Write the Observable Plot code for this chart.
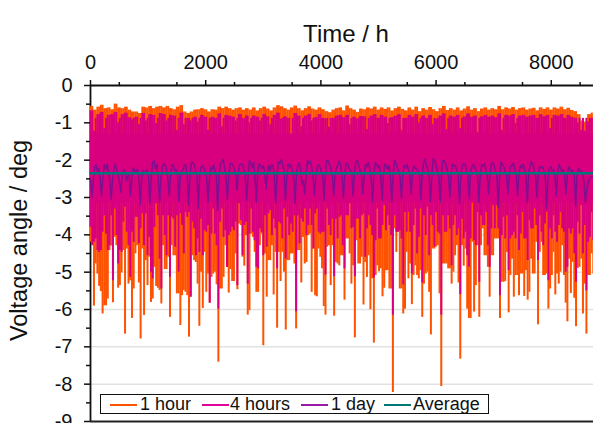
<!DOCTYPE html>
<html>
<head>
<meta charset="utf-8">
<script src="https://cdn.jsdelivr.net/npm/d3@7"></script>
<script src="https://cdn.jsdelivr.net/npm/@observablehq/plot@0.6"></script>
<style>
html,body{margin:0;padding:0;background:#fff;overflow:hidden}
#wrap{position:relative;width:593px;height:423px;font-family:"Liberation Sans",Arial,sans-serif}
#legend{position:absolute;left:100px;top:394px;width:387px;height:18px;border:1.5px solid #111;background:#fff;font-size:18px;line-height:18px;color:#111}
#legend span{position:absolute;top:0;white-space:nowrap}
#legend i{position:absolute;top:9px;height:1.5px;width:27px}
</style>
</head>
<body>
<div id="wrap">
<div id="chart"></div>
<div id="legend"></div>
</div>
<script>
const seriesNames = ["1 hour", "4 hours", "1 day", "Average"];
const seriesColors = ["#ff5200", "#d9007f", "#7f0f8f", "#007878"];
const xTicks = [0, 2000, 4000, 6000, 8000];
const yTicks = [0, -1, -2, -3, -4, -5, -6, -7, -8, -9];
const average = -2.35;
const fourSolidTop = -1.3;
const fourSolidBottom = -3.15;

// Highest reading of each 60 h window, 1-hour values
const hourTop = [-.56,-.66,-.58,-.53,-.62,-.6,-.65,-.5,-.6,-.62,-.58,-.66,-.71,-.71,-.75,-.58,-.6,-.56,-.62,-.58,-.56,-.6,-.56,-.62,-.65,-.58,-.54,-.71,-.75,-.71,-.66,-.65,-.62,-.65,-.71,-.65,-.66,-.58,-.62,-.58,-.62,-.66,-.62,-.6,-.66,-.62,-.66,-.6,-.68,-.62,-.58,-.63,-.68,-.6,-.54,-.57,-.62,-.66,-.6,-.55,-.62,-.68,-.62,-.57,-.63,-.66,-.6,-.65,-.7,-.73,-.66,-.62,-.6,-.68,-.55,-.62,-.66,-.72,-.63,-.65,-.6,-.63,-.58,-.66,-.6,-.64,-.6,-.68,-.62,-.58,-.64,-.68,-.6,-.66,-.58,-.7,-.62,-.66,-.59,-.65,-.7,-.62,-.56,-.67,-.62,-.66,-.6,-.68,-.63,-.57,-.66,-.62,-.7,-.63,-.6,-.66,-.62,-.65,-.56,-.65,-.6,-.63,-.59,-.66,-.62,-.6,-.66,-.63,-.61,-.68,-.6,-.64,-.6,-.66,-.6,-.63,-.58,-.65,-.61,-.67,-.7,-.78,-.95,-.98,-.78,-.74];
// Highest reading of each 60 h window, 4-hour values
const fourTop = [-.68,-1.22,-.78,-.72,-1.15,-.8,-.78,-.72,-1,-.78,-.74,-.86,-.92,-.85,-1.05,-.75,-.95,-.78,-.8,-1.02,-.75,-.78,-.95,-.8,-.82,-1.2,-.74,-1.05,-.88,-.95,-.85,-.98,-.8,-.85,-1.2,-.85,-.88,-.76,-1.1,-.8,-.82,-.85,-.95,-.78,-.88,-.82,-1,-.82,-.85,-.95,-.78,-.84,-1.05,-.8,-.74,-.9,-.84,-.88,-1.35,-.75,-.82,-1.1,-.82,-.78,-.95,-.86,-.78,-.88,-.9,-1.12,-.88,-.82,-.8,-.86,-.8,-1.05,-.85,-.9,-.83,-.84,-1.18,-.82,-.78,-.88,-.8,-.85,-1.02,-.86,-.82,-.78,-1.2,-.88,-.8,-.85,-.78,-1,-.82,-.88,-.8,-1.05,-.9,-.82,-.76,-1.18,-.82,-.85,-.8,-1.15,-.84,-.76,-.85,-.82,-1.25,-.84,-.8,-.85,-.82,-.86,-.76,-1.2,-.8,-.82,-.78,-1.02,-.82,-.8,-.85,-.82,-.8,-.88,-.78,-.84,-.8,-1.15,-.8,-.82,-.78,-.88,-.8,-.85,-.88,-1,-1.2,-1.22,-.98,-.88];

// Lowest reading of each 30 h window
const hourLow = [-4.2,-4.2,-5.91,-4.78,-5.05,-5.38,-5.52,-6.12,-5.9,-5.9,-5.72,-4.42,-4.3,-5.82,-4.07,-4.29,-5.43,-5.36,-5.02,-4.42,-6.66,-4.38,-5.32,-5.23,-6.24,-5.45,-4.51,-4.29,-5.29,-6.79,-4.38,-6.16,-4.69,-5.36,-4.6,-5.81,-5.72,-4.87,-5.38,-5.43,-5.49,-5.85,-4.29,-4.93,-4.93,-4.6,-6.21,-4.29,-4.56,-4.56,-5.58,-5.58,-6.43,-5.63,-5.49,-5.54,-5.63,-6.74,-5.67,-4.56,-4.69,-4.74,-5.32,-6.45,-5,-5.97,-4.47,-5.54,-5.05,-5.83,-5.14,-5.05,-5,-5.34,-7.41,-5.45,-5.45,-5.14,-4.29,-4.87,-5.56,-4.93,-5.25,-5.25,-4.51,-5.47,-3.71,-3.75,-4.6,-4.84,-4.02,-6.15,-6.03,-3.98,-4.07,-4.47,-5.54,-5.54,
-4.29,-3.98,-6.97,-4.51,-5.67,-4.69,-4.69,-4.29,-5.61,-4.47,-6.5,-4.47,-5.25,-4.47,-5,-6.55,-4.69,-4.69,-4.51,-4.51,-4.78,-6.52,-4.42,-4.42,-5.29,-4.07,-4.78,-4.74,-4.02,-3.98,-5.54,-4.38,-5.63,-5.66,-4.38,-4.6,-4.91,-5.92,-6.15,-4.33,-4.29,-5.36,-4.29,-6.18,-4.74,-4.78,-4.83,-4.56,-4.56,-5.75,-4.11,-4.11,-4.51,-5.32,-4.83,-6.76,-4.16,-4.78,-4.78,-4.6,-5.88,-4.74,-5.14,-4.56,-6.01,-5.18,-6.9,-5.09,-4.83,-4.99,-4.91,-5.66,-5.43,-4.96,-4.96,-5.45,-5.45,-8.22,-3.84,-4.47,-3.93,-5.45,-5.45,-6.12,-5.99,-4.47,-5.18,-4.78,-5.87,-5.09,-4.83,-5.09,-5.18,-4.96,-6.21,-5.32,-5.05,-5,
-5.54,-6.68,-4.38,-4.38,-4.33,-4.29,-5.58,-8.06,-4.78,-4.78,-4.78,-4.91,-4.91,-5.32,-5,-4.56,-4.29,-5.29,-7.33,-4.29,-4.84,-4.38,-5.99,-6.24,-6.24,-4.2,-6.07,-5.36,-4.29,-6.21,-4.29,-3.84,-4.56,-4.56,-4.87,-5.67,-4.56,-4.56,-4.11,-4.11,-4.11,-6.24,-5.27,-5.27,-5.25,-4.47,-6.09,-5.09,-4.65,-5.67,-5.09,-5.09,-5.63,-5.05,-5.05,-5.65,-4.96,-5.75,-5.54,-4.65,-5.05,-5.05,-4.2,-6.41,-4.47,-4.2,-5.09,-5.09,-5.05,-5.99,-5.45,-5.09,-4.47,-5.61,-5.05,-5.32,-5,-4.29,-5.09,-5.83,-6.33,-4.65,-5.57,-4.74,-5.7,-6.46,-4.9,-4.87,-4.65,-6.12,-5.32,-6.66,-5.09,-5.09,-4.51,-5.05];
const fourLow = [-3.8,-4.29,-4.2,-4.11,-4.42,-4.47,-4.42,-3.93,-3.49,-3.98,-4.42,-4.29,-3.49,-5.23,-3.31,-4.02,-4.78,-4.42,-4.47,-3.66,-3.26,-3.93,-4.29,-5.14,-3.93,-4.2,-3.53,-3.53,-4.24,-3.84,-3.44,-4.29,-3.44,-4.56,-4.07,-5,-5.18,-3.8,-3.17,-3.49,-4.65,-5.45,-3.49,-4.02,-4.56,-3.49,-5.14,-3.53,-3.58,-4.33,-3.49,-5,-3.44,-3.75,-4.51,-3.4,-3.53,-3.4,-5.67,-3.66,-3.84,-4.56,-4.11,-4.47,-3.58,-4.56,-3.89,-3.93,-3.75,-5.83,-3.98,-3.31,-3.98,-4.29,-5.99,-3.66,-3.31,-4.07,-3.89,-4.87,-4.02,-3.93,-3.8,-3.89,-3.66,-5.36,-3.17,-3.62,-4.56,-3.75,-3.66,-5.32,-3.98,-3.31,-3.93,-4.16,-4.87,-4.91,
-3.84,-3.93,-4.56,-3.49,-4.33,-3.44,-3.35,-4.02,-3.58,-3.84,-4.91,-3.66,-3.71,-4.11,-3.31,-4.65,-3.53,-4.02,-3.71,-3.93,-3.49,-6.06,-3.49,-4.24,-3.58,-3.66,-3.31,-4.02,-3.75,-3.31,-3.75,-4.38,-3.44,-3.31,-3.93,-3.98,-3.93,-3.93,-5.08,-3.31,-3.75,-4.02,-3.58,-5.12,-3.58,-4.11,-3.53,-3.49,-4.29,-4.91,-3.49,-3.49,-3.17,-3.84,-3.8,-5.12,-3.58,-3.58,-4.11,-3.49,-3.44,-4.6,-3.84,-3.49,-3.75,-4.02,-5.16,-4.16,-3.31,-4.11,-4.11,-3.75,-3.22,-3.89,-3.49,-3.75,-4.02,-6.15,-3.49,-3.93,-3.93,-3.89,-4.11,-5.34,-3.4,-3.93,-3.4,-3.93,-5.05,-3.75,-3.31,-4.51,-4.07,-3.31,-5.29,-3.49,-4.02,-3.26,
-4.56,-3.49,-3.75,-4.33,-3.4,-3.93,-3.98,-6.15,-3.49,-3.93,-3.93,-3.49,-3.84,-4.83,-3.75,-3.49,-4.02,-3.84,-5.6,-3.58,-4.11,-3.93,-4.56,-4.87,-4.11,-3.13,-4.16,-4.29,-3.4,-5.27,-3.49,-3.75,-3.75,-3.4,-4.29,-4.87,-3.84,-3.22,-3.84,-3.22,-3.84,-5.63,-4.02,-3.53,-4.11,-3.49,-4.96,-4.11,-4.02,-3.93,-4.11,-3.49,-4.42,-3.98,-3.4,-4.11,-4.11,-4.69,-3.62,-3.84,-3.84,-3.31,-3.75,-4.69,-3.49,-3.93,-4.29,-3.71,-3.4,-5.23,-3.84,-4.11,-3.49,-3.93,-4.2,-3.75,-3.4,-3.84,-3.93,-5,-4.87,-3.84,-3.98,-3.84,-4.51,-5.27,-3.66,-3.98,-3.22,-4.51,-3.75,-5.5,-4.2,-4.07,-3.4,-4.16];

// Daily mean, one value per day
const dayMean = [
-2.5,-2.99,-2.55,-2.2,-2.12,-2.3,-2.22, -2.5,-2.95,-2.45,-2.12,-2.25,-2.1,-2.3, -2.55,-3.04,-2.5,-2.22,-2.1,-2.32,-2.4, -2.6,-2.86,-2.35,-2.25,-2.28,-2.55,-2.42,
-2.4,-2.95,-2.45,-2.2,-2.28,-2.3,-2.24, -2.45,-3.19,-2.5,-2.28,-2.3,-2.32,-2.25, -2.42,-3.15,-2.4,-2.05,-2.02,-2.22,-2.12, -2.5,-3.1,-2.45,-2.18,-2.1,-2.12,-2.24,
-2.5,-2.95,-2.35,-2.12,-2.14,-2.28,-2.26, -2.35,-3.1,-2.4,-2.3,-2.25,-2.12,-2.15, -2.4,-3.2,-2.4,-2.08,-2.06,-2.12,-2.28, -2.38,-3.3,-2.38,-2.18,-2.15,-2.2,-2.3,
-2.45,-3.13,-2.5,-2.2,-2.25,-2.12,-2.28, -2.4,-3.35,-2.4,-2.1,-2.05,-1.98,-2.22, -2.45,-3.04,-2.45,-2.1,-2.08,-2.12,-2.25, -2.42,-2.8,-2.3,-2.12,-2.1,-2.12,-2.28,
-2.45,-3.08,-2.4,-2,-2.1,-2.2,-2.05, -2.45,-3.13,-2.3,-2.1,-2.14,-2.22,-2.15, -2.3,-2.77,-2.35,-2.14,-2.28,-2.12,-2.15, -2.4,-3.15,-2.38,-2.05,-2.08,-1.98,-2.1,
-2.3,-3.08,-2.42,-2.1,-2.18,-2.12,-2.3, -2.45,-3.15,-2.35,-2.14,-2.08,-2.25,-2.65, -2.55,-2.9,-2.4,-2,-2.1,-2.02,-2.18, -2.4,-2.93,-2.45,-2.2,-2.12,-2.18,-2.3,
-2.4,-3.08,-2.35,-2,-2.02,-2.12,-2.25, -2.4,-2.95,-2.35,-2.2,-2.12,-2.02,-2.14, -2.42,-3,-2.35,-2.08,-2.1,-2.22,-2.28, -2.4,-2.95,-2.3,-2.04,-2,-2.12,-2.28,
-2.4,-2.9,-2.38,-2.1,-2.18,-2.06,-2.22, -2.45,-3.13,-2.4,-2.06,-2.1,-2.2,-2.14, -2.42,-3.08,-2.35,-2.1,-2.14,-2.25,-2.15, -2.45,-3.13,-2.35,-2,-2.08,-2.22,-2.3,
-2.45,-3.03,-2.35,-2.14,-2.2,-2.12,-2.26, -2.4,-2.9,-2.3,-2.16,-2.22,-2.24,-2.3, -2.4,-3.06,-2.38,-2.05,-1.96,-2.12,-2.26, -2.42,-3.1,-2.35,-1.96,-2,-2.14,-2.3,
-2.45,-3.13,-2.3,-2,-2.02,-2.1,-2.25, -2.45,-3,-2.32,-2.1,-2.16,-2.14,-2.3, -2.42,-3.17,-2.35,-2.14,-2.08,-2.12,-2.28, -2.4,-3.04,-2.3,-2.16,-2.12,-2.2,-2.3,
-2.45,-3.13,-2.38,-2.12,-2.16,-2.1,-2.26, -2.42,-2.9,-2.35,-2.1,-2.06,-2.14,-2.3, -2.45,-3.26,-2.4,-2.05,-2.12,-2.18,-2.3, -2.4,-2.9,-2.3,-2.16,-2.14,-2.08,-2.25,
-2.42,-2.95,-2.32,-2.14,-2.2,-2.1,-2.26, -2.45,-3.13,-2.32,-2.16,-2.04,-2.12,-2.28, -2.42,-3,-2.35,-2.16,-2.2,-2.18,-2.3, -2.45,-3.3,-2.38,-2.2,-2.18,-2.28,-2.26,
-2.42,-2.95,-2.3,-2.12,-2.2,-2.32,-2.25, -2.4,-2.9,-2.35,-2.18,-2.24,-2.3,-2.28, -2.42,-3.24,-2.35,-2.22,-2.28,-2.3,-2.32, -2.6,-3.13,-2.77,-2.6,-2.5,-2.46,-2.44];

// Even windows carry the reading of their 60 h span, odd ones stay at the plain upper edge
const plainTop = d3.quantile(fourTop.slice().sort(d3.descending), 0.35);
const windows = hourLow.map((low, i) => ({
  hour: i * 30, low, mLow: fourLow[i], top: hourTop[i >> 1],
  mTop: i % 2 ? Math.max(fourTop[i >> 1], plainTop) : fourTop[i >> 1]
}));
const days = dayMean.map((v, i) => ({hour: i * 24, v}));
const avgLine = [{hour: 0, v: average}, {hour: 8733, v: average}];

const font = "'Liberation Sans', Arial, sans-serif";
const plot = Plot.plot({
  width: 593,
  height: 423,
  marginTop: 85,
  marginBottom: 2,
  marginLeft: 90,
  marginRight: 0,
  style: {fontFamily: font, fontSize: "20px", background: "transparent", color: "#111", overflow: "hidden"},
  x: {domain: [0, 8733], label: null},
  y: {domain: [-9, 0], label: null},
  marks: [
    Plot.ruleY(yTicks.slice(1, -1), {stroke: "#e2e2e2", strokeWidth: 1.5}),
    Plot.ruleX([0], {stroke: "#111", strokeWidth: 1.8}),
    Plot.ruleY([-9], {stroke: "#222", strokeWidth: 2}),
    Plot.ruleX(windows, {x: "hour", y1: "top", y2: "low", stroke: seriesColors[0], strokeWidth: 2}),
    Plot.ruleX(windows, {x: "hour", y1: "mTop", y2: "mLow", stroke: seriesColors[1], strokeWidth: 2}),
    Plot.areaY(windows, {x: "hour", y1: fourSolidTop, y2: fourSolidBottom, fill: seriesColors[1]}),
    Plot.line(days, {x: "hour", y: "v", stroke: seriesColors[2], strokeWidth: 1.5, strokeLinejoin: "round"}),
    Plot.line(avgLine, {x: "hour", y: "v", stroke: seriesColors[3], strokeWidth: 2.4}),
    Plot.ruleY([0], {stroke: "#111", strokeWidth: 2}),
    Plot.axisX({anchor: "top", ticks: xTicks, tickSize: 6, tickPadding: 11, tickFormat: d => String(d), label: null, fontSize: 20, stroke: "#111", strokeWidth: 1.5}),
    Plot.axisX({anchor: "top", ticks: d3.range(500, 8733, 1000), tickSize: 4, tickFormat: () => "", label: null, stroke: "#111", strokeWidth: 1.5}),
    Plot.axisY({anchor: "left", ticks: yTicks, tickSize: 6, tickPadding: 12, tickFormat: d => String(d), label: null, fontSize: 20, stroke: "#111", strokeWidth: 1.5}),
    Plot.axisY({anchor: "left", ticks: d3.range(-0.5, -9, -1), tickSize: 4, tickFormat: () => "", label: null, stroke: "#111", strokeWidth: 1.5}),
    Plot.text(["Time / h"], {frameAnchor: "top", textAnchor: "middle", dx: 4, dy: -61, fontSize: 24, fill: "#111"}),
    Plot.text(["Voltage angle / deg"], {frameAnchor: "left", textAnchor: "middle", dx: -71, dy: -13, rotate: -90, fontSize: 23.5, fill: "#111"})
  ]
});
document.getElementById("chart").appendChild(plot);

const legend = document.getElementById("legend");
const lineLeft = [9, 101, 200, 283];
const textLeft = [39, 129, 230, 312];
seriesNames.forEach((name, i) => {
  const line = document.createElement("i");
  line.style.left = lineLeft[i] + "px";
  line.style.background = i === 2 ? "#9a1aa8" : i === 1 ? "#e0009a" : seriesColors[i];
  const label = document.createElement("span");
  label.style.left = textLeft[i] + "px";
  label.textContent = name;
  legend.append(line, label);
});
</script>
</body>
</html>
